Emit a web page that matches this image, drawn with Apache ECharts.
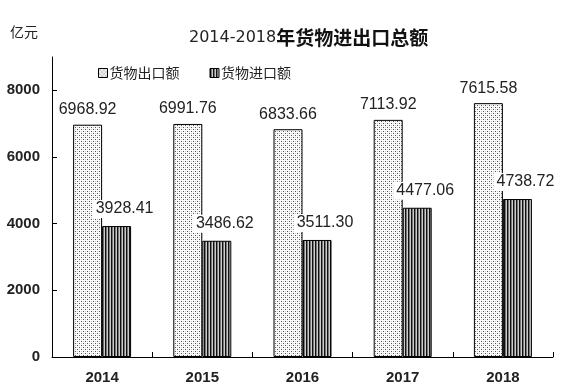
<!DOCTYPE html>
<html><head><meta charset="utf-8">
<script src="https://cdn.jsdelivr.net/npm/echarts@6/dist/echarts.min.js"></script>
<style>html,body{margin:0;padding:0;background:#fff}#c{width:565px;height:392px}</style>
</head><body><div id="c"></div>
<script>
const categories = ['2014','2015','2016','2017','2018'];
const exportValues = [6968.92, 6991.76, 6833.66, 7113.92, 7615.58];
const importValues = [3928.41, 3486.62, 3511.30, 4477.06, 4738.72];
const yTicks = [0, 2000, 4000, 6000, 8000];
const seriesNames = ['货物出口额', '货物进口额'];

function dotPattern(){
  const c = document.createElement('canvas'); c.width = 4; c.height = 4;
  const g = c.getContext('2d');
  g.fillStyle = '#fbfbfb'; g.fillRect(0,0,4,4);
  g.fillStyle = '#555'; g.fillRect(1,1,1,1); g.fillRect(3,3,1,1);
  g.fillStyle = '#ccc'; g.fillRect(3,1,1,1); g.fillRect(1,3,1,1);
  return c;
}
function stripePattern(){
  const c = document.createElement('canvas'); c.width = 3; c.height = 4;
  const g = c.getContext('2d');
  g.fillStyle = '#111'; g.fillRect(0,0,1,4);
  g.fillStyle = '#777'; g.fillRect(1,0,1,4);
  g.fillStyle = '#ccc'; g.fillRect(2,0,1,4);
  return c;
}
const dotFill = {image: dotPattern(), repeat: 'repeat'};
const stripeFill = {image: stripePattern(), repeat: 'repeat'};
const FONT = 'Liberation Sans, Arial, Noto Sans CJK SC, sans-serif';
const CJK = 'Noto Sans CJK SC, sans-serif';

const chart = echarts.init(document.getElementById('c'), null, {renderer: 'canvas'});
const labelCommon = {
  show: true, position: 'top', distance: 6,
  fontFamily: FONT, fontSize: 16, color: '#222',
  backgroundColor: '#fff', padding: [1, 3]
};
chart.setOption({
  animation: false,
  title: {
    text: '{a|2014-2018}{b|年货物进出口总额}',
    left: 184, top: 23,
    textStyle: {
      rich: {
        a: {fontFamily: 'DejaVu Sans, sans-serif', fontSize: 16, color: '#222', fontWeight: 'normal'},
        b: {fontFamily: CJK, fontSize: 19, color: '#111', fontWeight: 'bold'}
      }
    }
  },
  graphic: [{
    type: 'text', left: 10, top: 25,
    style: {text: '亿元', font: '14px ' + CJK, fill: '#222'}
  }],
  legend: {
    top: 61, left: 93, itemGap: 30, itemWidth: 9, itemHeight: 9,
    icon: 'rect',
    itemStyle: {borderColor: '#000', borderWidth: 1},
    textStyle: {fontFamily: CJK, fontSize: 14, color: '#222', padding: [0,0,0,-3]},
    data: seriesNames
  },
  grid: {left: 52, right: 12, top: 57, bottom: 35, containLabel: false},
  xAxis: {
    type: 'category', data: categories, boundaryGap: true,
    axisLine: {lineStyle: {color: '#000', width: 1}},
    axisTick: {show: true, inside: true, length: 5, lineStyle: {color: '#000'}},
    axisLabel: {fontFamily: FONT, fontSize: 15, fontWeight: 'bold', color: '#222', margin: 13}
  },
  yAxis: {
    type: 'value', min: 0, max: 9000, interval: 2000,
    axisLine: {show: true, lineStyle: {color: '#000', width: 1}},
    axisTick: {show: true, inside: true, length: 5, lineStyle: {color: '#000'}, customValues: yTicks},
    axisLabel: {fontFamily: FONT, fontSize: 15, fontWeight: 'bold', color: '#222', margin: 12,
      customValues: yTicks, formatter: v => String(v)},
    splitLine: {show: false}
  },
  series: [
    {
      name: seriesNames[0], type: 'bar', data: exportValues, barWidth: 29, barGap: '0%',
      itemStyle: {color: dotFill, borderColor: '#000', borderWidth: 1},
      label: Object.assign({}, labelCommon, {formatter: p => p.value.toFixed(2)})
    },
    {
      name: seriesNames[1], type: 'bar', data: importValues, barWidth: 29,
      itemStyle: {color: stripeFill, borderColor: '#000', borderWidth: 1},
      label: Object.assign({}, labelCommon, {offset: [8, -2], formatter: p => p.value.toFixed(2)})
    }
  ]
});
</script></body></html>
